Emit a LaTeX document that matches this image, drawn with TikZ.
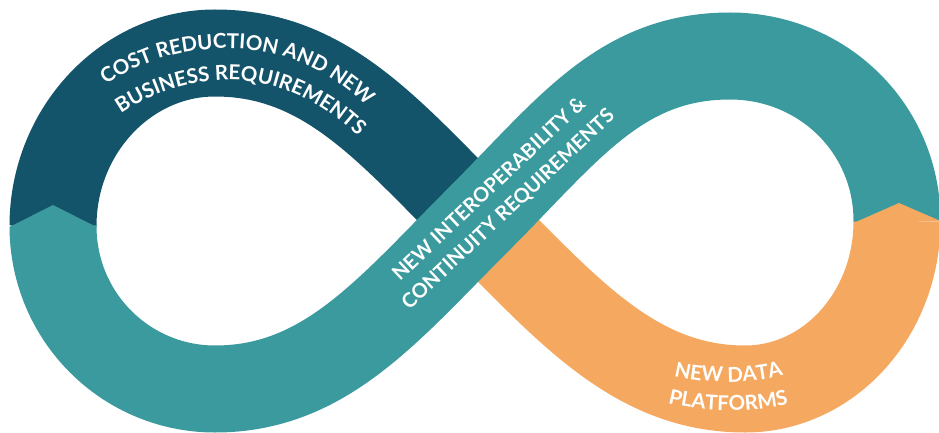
\documentclass[tikz,border=0pt]{standalone}
\usepackage{fontspec}
\newfontfamily\lbl{Lato}
\usetikzlibrary{decorations.text}
\definecolor{darkband}{HTML}{14546B}
\definecolor{tealband}{HTML}{3A9A9D}
\definecolor{orangeband}{HTML}{F5A960}
\newcommand{\lblfont}{\lbl\bfseries\fontsize{20.5}{24}\selectfont}
\begin{document}
\begin{tikzpicture}[x=1pt,y=-1pt,
  band/.style={line width=87pt, line cap=butt},
  lbltext/.style={decorate, decoration={text along path, text align={fit to path}, text color=white, text={#1}}},
  crosslbl/.style={text=white, font=\lbl\bfseries\fontsize{20}{24}\selectfont, inner sep=0pt, anchor=base}]
\useasboundingbox (0,0) rectangle (939,433);
\coordinate (C) at (478,220);
\coordinate (L) at (53,226);
\coordinate (TL) at (215,53);
\coordinate (BL) at (215,389);
\coordinate (R) at (897,221);
\coordinate (TR) at (730,56);
\coordinate (BR) at (745,389);
% dark band
\draw[band, darkband] (L) .. controls (53,131) and (126,53) .. (TL) .. controls (325,53) and (388,130) .. (C);
% orange band
\draw[band, orangeband] (C) .. controls (568,310) and (635,389) .. (BR) .. controls (829,389) and (897,314) .. (R);
% teal band
\draw[band, tealband] (R) .. controls (897,128) and (822,56) .. (TR) .. controls (620,56) and (568,130) .. (C) .. controls (388,310) and (325,389) .. (BL) .. controls (126,389) and (53,317) .. (L);
% chevrons
\fill[tealband] (9.5,227) -- (53,205) -- (96.5,227) -- cycle;
\fill[orangeband] (853.5,223) -- (899,203) -- (940.5,221) -- cycle;
% texts
\path[lbltext={|\lblfont|COST REDUCTION AND NEW}] (106,85) .. controls (150,55) and (195,47) .. (240,49) .. controls (290,52) and (330,72) .. (363,103);
\path[lbltext={|\lblfont|BUSINESS REQUIREMENTS}] (121,114) .. controls (155,91) and (190,81) .. (230,80) .. controls (275,80) and (320,100) .. (355,134);
\node[crosslbl, rotate=43.4] (interop) at (493.5,193.5) {NEW INTEROPERABILITY \&};
\node[crosslbl, rotate=43.1] (contin) at (512.5,214) {CONTINUITY REQUIREMENTS};
\path[lbltext={|\lblfont|NEW DATA}] (674,376) .. controls (705,384) and (750,384) .. (779,376);
\path[lbltext={|\lblfont|PLATFORMS}] (668,403) .. controls (705,413) and (750,413) .. (787,404);
\end{tikzpicture}
\end{document}
